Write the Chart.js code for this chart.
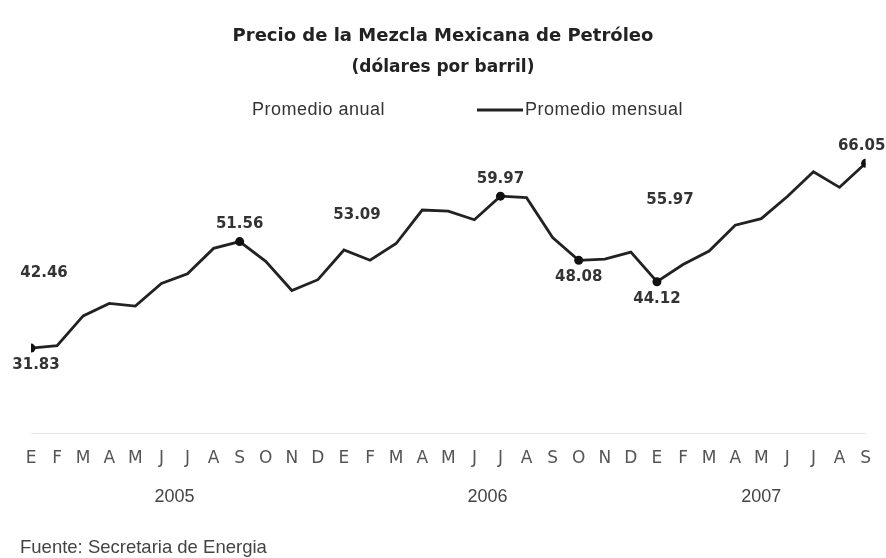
<!DOCTYPE html>
<html lang="es">
<head>
  <meta charset="UTF-8" />
  <title>Precio de la Mezcla Mexicana de Petróleo</title>
  <script src="https://cdn.jsdelivr.net/npm/chart.js"></script>
  <style>
    body { margin: 0; background: #fff; }
    #caja { width: 886px; height: 558px; }
  </style>
</head>
<body>
  <div id="caja"><canvas id="grafico"></canvas></div>

  <script>
    // meses (E = enero ... S = septiembre 2007)
    const meses = ['E','F','M','A','M','J','J','A','S','O','N','D',
                   'E','F','M','A','M','J','J','A','S','O','N','D',
                   'E','F','M','A','M','J','J','A','S'];
    const anios = ['2005', '2006', '2007'];
    const mensual = [31.83, 32.3, 37.8, 40.1, 39.6, 43.8, 45.6, 50.3, 51.56, 47.9, 42.5, 44.5,
                     50.0, 48.1, 51.2, 57.4, 57.2, 55.6, 59.97, 59.7, 52.3, 48.08, 48.3, 49.6,
                     44.12, 47.3, 49.8, 54.6, 55.8, 59.9, 64.5, 61.6, 66.05];
    const anual = [42.46, 53.09, 55.97];
    // puntos con etiqueta (mínimos y máximos)
    const marcados = [0, 8, 18, 21, 24, 32];
    const debajo = [0, 21, 24];

    const fuenteTxt = 'Fuente: Secretaria de Energia';
    const sans = '"Liberation Sans", Arial, sans-serif';
    const ancha = '"DejaVu Sans", Verdana, sans-serif';

    const puntosMensual = mensual.map((v, i) => ({ x: i, y: v }));
    const puntosAnual = anual.map((v, i) => ({ x: i * 12 + 0.5, y: v }));

    const extras = {
      id: 'extras',
      afterDatasetsDraw(chart) {
        const ctx = chart.ctx;
        ctx.save();
        ctx.fillStyle = '#333';
        ctx.font = 'bold 15px ' + ancha;
        ctx.textAlign = 'center';
        ctx.textBaseline = 'middle';

        const m = chart.getDatasetMeta(1);
        marcados.forEach(i => {
          const p = m.data[i];
          const dy = debajo.includes(i) ? 17 : -17;
          let x = p.x;
          if (i === 0) x += 5;
          if (i === mensual.length - 1) x -= 4;
          ctx.fillText(mensual[i].toFixed(2), x, p.y + dy);
        });

        const a = chart.getDatasetMeta(0);
        a.data.forEach((p, i) => {
          ctx.fillText(anual[i].toFixed(2), p.x, p.y - 18);
        });
        ctx.restore();
      },
      afterDraw(chart) {
        const ctx = chart.ctx;
        const xs = chart.scales.x;
        ctx.save();
        ctx.textBaseline = 'middle';

        // leyenda
        const ds = chart.data.datasets;
        ctx.fillStyle = '#333';
        ctx.font = '18px ' + sans;
        ctx.letterSpacing = '0.5px';
        ctx.textAlign = 'left';
        ctx.fillText(ds[0].label, 252, 110);
        ctx.strokeStyle = ds[1].borderColor;
        ctx.lineWidth = 3;
        ctx.beginPath();
        ctx.moveTo(477, 110);
        ctx.lineTo(523, 110);
        ctx.stroke();
        ctx.fillText(ds[1].label, 525, 110);

        // años
        ctx.letterSpacing = '0px';
        ctx.fillStyle = '#444';
        ctx.textAlign = 'center';
        anios.forEach((t, k) => {
          const ini = k * 12;
          const fin = Math.min(ini + 11, meses.length - 1);
          ctx.fillText(t, xs.getPixelForValue((ini + fin) / 2), 497);
        });

        ctx.textAlign = 'left';
        ctx.font = '18.5px ' + sans;
        ctx.fillText(fuenteTxt, 20, 548);
        ctx.restore();
      }
    };

    new Chart(document.getElementById('grafico'), {
      type: 'line',
      data: {
        datasets: [
          {
            label: 'Promedio anual',
            data: puntosAnual,
            showLine: false,
            pointRadius: 0,
            borderColor: 'transparent',
            backgroundColor: 'transparent'
          },
          {
            label: 'Promedio mensual',
            data: puntosMensual,
            borderColor: '#222',
            backgroundColor: '#222',
            borderWidth: 2.8,
            tension: 0,
            pointRadius: mensual.map((v, i) => marcados.includes(i) ? 4.5 : 0),
            pointBackgroundColor: '#111',
            pointBorderWidth: 0
          }
        ]
      },
      options: {
        responsive: true,
        maintainAspectRatio: false,
        animation: false,
        layout: { padding: { left: 11, right: 11, bottom: 74 } },
        plugins: {
          title: {
            display: true,
            text: 'Precio de la Mezcla Mexicana de Petróleo',
            color: '#222',
            font: { family: ancha, size: 18, weight: 'bold' },
            padding: { top: 26, bottom: 10 }
          },
          subtitle: {
            display: true,
            text: '(dólares por barril)',
            color: '#222',
            font: { family: ancha, size: 17, weight: 'bold' },
            padding: { bottom: 64 }
          },
          legend: { display: false },
          tooltip: { enabled: false }
        },
        scales: {
          x: {
            type: 'linear',
            min: 0,
            max: meses.length - 1,
            grid: { display: false, drawTicks: false },
            border: { display: true, color: '#e6e6e6' },
            ticks: {
              stepSize: 1,
              autoSkip: false,
              maxRotation: 0,
              padding: 15,
              color: '#555',
              font: { family: ancha, size: 17 },
              callback: v => meses[v]
            }
          },
          y: {
            display: true,
            min: 16,
            max: 70,
            grid: { display: false },
            border: { display: false },
            ticks: { display: false },
            afterFit(scale) { scale.width = 20; }
          }
        }
      },
      plugins: [extras]
    });
  </script>
</body>
</html>
